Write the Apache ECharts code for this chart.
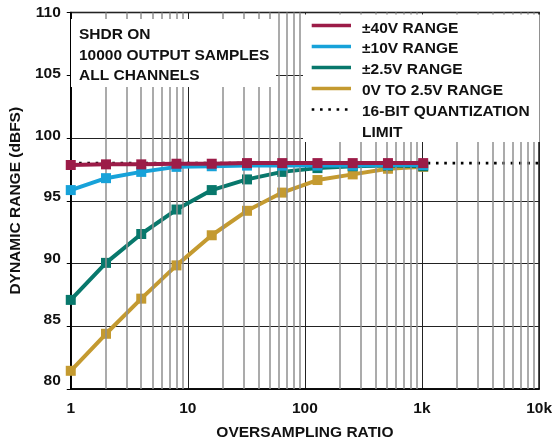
<!DOCTYPE html>
<html>
<head>
<meta charset="utf-8">
<script src="https://cdn.jsdelivr.net/npm/echarts@6/dist/echarts.min.js"></script>
<style>
html,body{margin:0;padding:0;background:#fff;}
#chart{width:555px;height:446px;}
</style>
</head>
<body>
<div id="chart"></div>
<script>
// ---- data ----
const oversampling = [1, 2, 4, 8, 16, 32, 64, 128, 256, 512, 1024];
const range40V  = [97.85, 97.9, 97.9, 97.95, 97.95, 98.0, 98.0, 98.0, 98.0, 98.0, 98.0];
const range10V  = [95.85, 96.8, 97.3, 97.7, 97.75, 97.8, 97.8, 97.8, 97.8, 97.85, 97.85];
const range2V5  = [87.1, 90.05, 92.35, 94.3, 95.85, 96.7, 97.3, 97.6, 97.75, 97.8, 97.75];
const range0to2V5 = [81.45, 84.4, 87.2, 89.85, 92.25, 94.2, 95.65, 96.65, 97.1, 97.55, 97.7];
const limitX = [1, 10000];
const limitValue = 98.0;
const seriesNames = ['±40V RANGE', '±10V RANGE', '±2.5V RANGE', '0V TO 2.5V RANGE'];
const limitNameLines = ['16-BIT QUANTIZATION', 'LIMIT'];
const annotationLines = ['SHDR ON', '10000 OUTPUT SAMPLES', 'ALL CHANNELS'];
const xTickLabels = {1: '1', 10: '10', 100: '100', 1000: '1k', 10000: '10k'};
const yTickValues = [80, 85, 90, 95, 100, 105, 110];
const decades = [1, 10, 100, 1000];
const minorMultipliers = [2, 3, 4, 5, 6, 7, 8, 9];

// ---- styles ----
const colors = ['#9c1c48', '#17a2d9', '#08786c', '#c49a30'];
const FONT = 'Liberation Sans, Arial, Helvetica, sans-serif';
const FS = 15.5;
const font = 'bold ' + FS + 'px ' + FONT;

const pairs = (ys) => oversampling.map((x, i) => [x, ys[i]]);
const seriesData = [range40V, range10V, range2V5, range0to2V5];

const minorLines = [];
decades.forEach(d => minorMultipliers.forEach(m => minorLines.push({xAxis: d * m})));

// y tick labels in the original drift upward slightly toward the bottom
const yRich = {};
yTickValues.forEach((v, i) => {
  const steps = yTickValues.length - 1 - i; // 0 at top
  yRich['o' + i] = {fontFamily: FONT, fontWeight: 'bold', fontSize: FS, color: '#111', padding: [0, 0, steps * 2.6, 0]};
});

const chart = echarts.init(document.getElementById('chart'));

const drawOrder = [3, 2, 1, 0];
const series = [{
  name: limitNameLines[0],
  type: 'line',
  data: limitX.map(x => [x, limitValue]),
  symbol: 'none',
  z: 2,
  lineStyle: {color: '#000', width: 2.6, type: [2.6, 5.7], cap: 'butt'},
  markLine: {
    silent: true,
    symbol: 'none',
    label: {show: false},
    lineStyle: {color: '#8f8f8f', width: 1.5, type: 'solid'},
    data: minorLines,
    animation: false
  },
  animation: false
}];
drawOrder.forEach((idx, k) => {
  series.push({
    name: seriesNames[idx],
    type: 'line',
    data: pairs(seriesData[idx]),
    symbol: 'rect',
    symbolSize: 10,
    z: 3 + k,
    lineStyle: {color: colors[idx], width: 4},
    itemStyle: {color: colors[idx]},
    animation: false
  });
});

const G = {zlevel: 1, z: 100, silent: true};
const graphics = [
  Object.assign({type: 'rect', shape: {x: 71, y: 19, width: 205, height: 68}, style: {fill: '#fff'}}, G),
  Object.assign({type: 'rect', shape: {x: 303, y: 14.5, width: 236.5, height: 127.5}, style: {fill: '#fff'}}, G)
];
const annY = [34.3, 55.3, 76.2];
annotationLines.forEach((t, i) => graphics.push(Object.assign({
  type: 'text',
  style: {text: t, x: 79, y: annY[i], font: font, fill: '#111', align: 'left', verticalAlign: 'middle'}
}, G)));
const legY = [28.3, 49.2, 70.2, 90.8];
const legLineY = [25.5, 46.5, 67.5, 88.5];
seriesNames.forEach((t, i) => {
  graphics.push(Object.assign({
    type: 'line',
    shape: {x1: 311.7, y1: legLineY[i], x2: 351, y2: legLineY[i]},
    style: {stroke: colors[i], lineWidth: 3.5}
  }, G));
  graphics.push(Object.assign({
    type: 'text',
    style: {text: t, x: 362, y: legY[i], font: font, fill: '#111', align: 'left', verticalAlign: 'middle'}
  }, G));
});
graphics.push(Object.assign({
  type: 'line',
  shape: {x1: 311.7, y1: 109.5, x2: 351, y2: 109.5},
  style: {stroke: '#000', lineWidth: 2.6, lineDash: [2.6, 5.7]}
}, G));
graphics.push(Object.assign({
  type: 'text',
  style: {text: limitNameLines[0], x: 362, y: 112, font: font, fill: '#111', align: 'left', verticalAlign: 'middle'}
}, G));
graphics.push(Object.assign({
  type: 'text',
  style: {text: limitNameLines[1], x: 362, y: 132.5, font: font, fill: '#111', align: 'left', verticalAlign: 'middle'}
}, G));
graphics.forEach(g => { if (g.type !== 'rect') g.z = 101; });

chart.setOption({
  animation: false,
  backgroundColor: '#fff',
  grid: {left: 69, right: 13.5, top: 12.5, bottom: 55.5, show: true, borderColor: '#000', borderWidth: 1.5, backgroundColor: 'transparent'},
  xAxis: {
    type: 'log',
    logBase: 10,
    min: 1,
    max: 10000,
    name: 'OVERSAMPLING RATIO',
    nameLocation: 'middle',
    nameGap: 36,
    nameTextStyle: {fontFamily: FONT, fontWeight: 'bold', fontSize: FS, color: '#111'},
    axisLine: {show: true, lineStyle: {color: '#000', width: 1.5}},
    axisTick: {show: false},
    axisLabel: {
      margin: 12, fontFamily: FONT, fontWeight: 'bold', fontSize: FS, color: '#111',
      formatter: v => xTickLabels[Math.round(v)] || ''
    },
    splitLine: {show: true, lineStyle: {color: '#222', width: 1}},
    minorTick: {show: false},
    minorSplitLine: {show: false}
  },
  yAxis: {
    type: 'value',
    min: 80,
    max: 110,
    interval: 5,
    name: 'DYNAMIC RANGE (dBFS)',
    nameLocation: 'middle',
    nameGap: 37,
    nameTextStyle: {fontFamily: FONT, fontWeight: 'bold', fontSize: FS, color: '#111'},
    axisLine: {show: true, lineStyle: {color: '#000', width: 1.5}},
    axisTick: {show: true, inside: false, length: 4, lineStyle: {color: '#000', width: 1}},
    axisLabel: {
      margin: 10, fontFamily: FONT, fontWeight: 'bold', fontSize: FS, color: '#111',
      formatter: v => {
        const i = yTickValues.indexOf(Math.round(v));
        return '{o' + i + '|' + Math.round(v) + '}';
      },
      rich: yRich
    },
    splitLine: {show: true, lineStyle: {color: '#222', width: 1}}
  },
  legend: {show: false},
  graphic: graphics,
  series: series
});
</script>
</body>
</html>
